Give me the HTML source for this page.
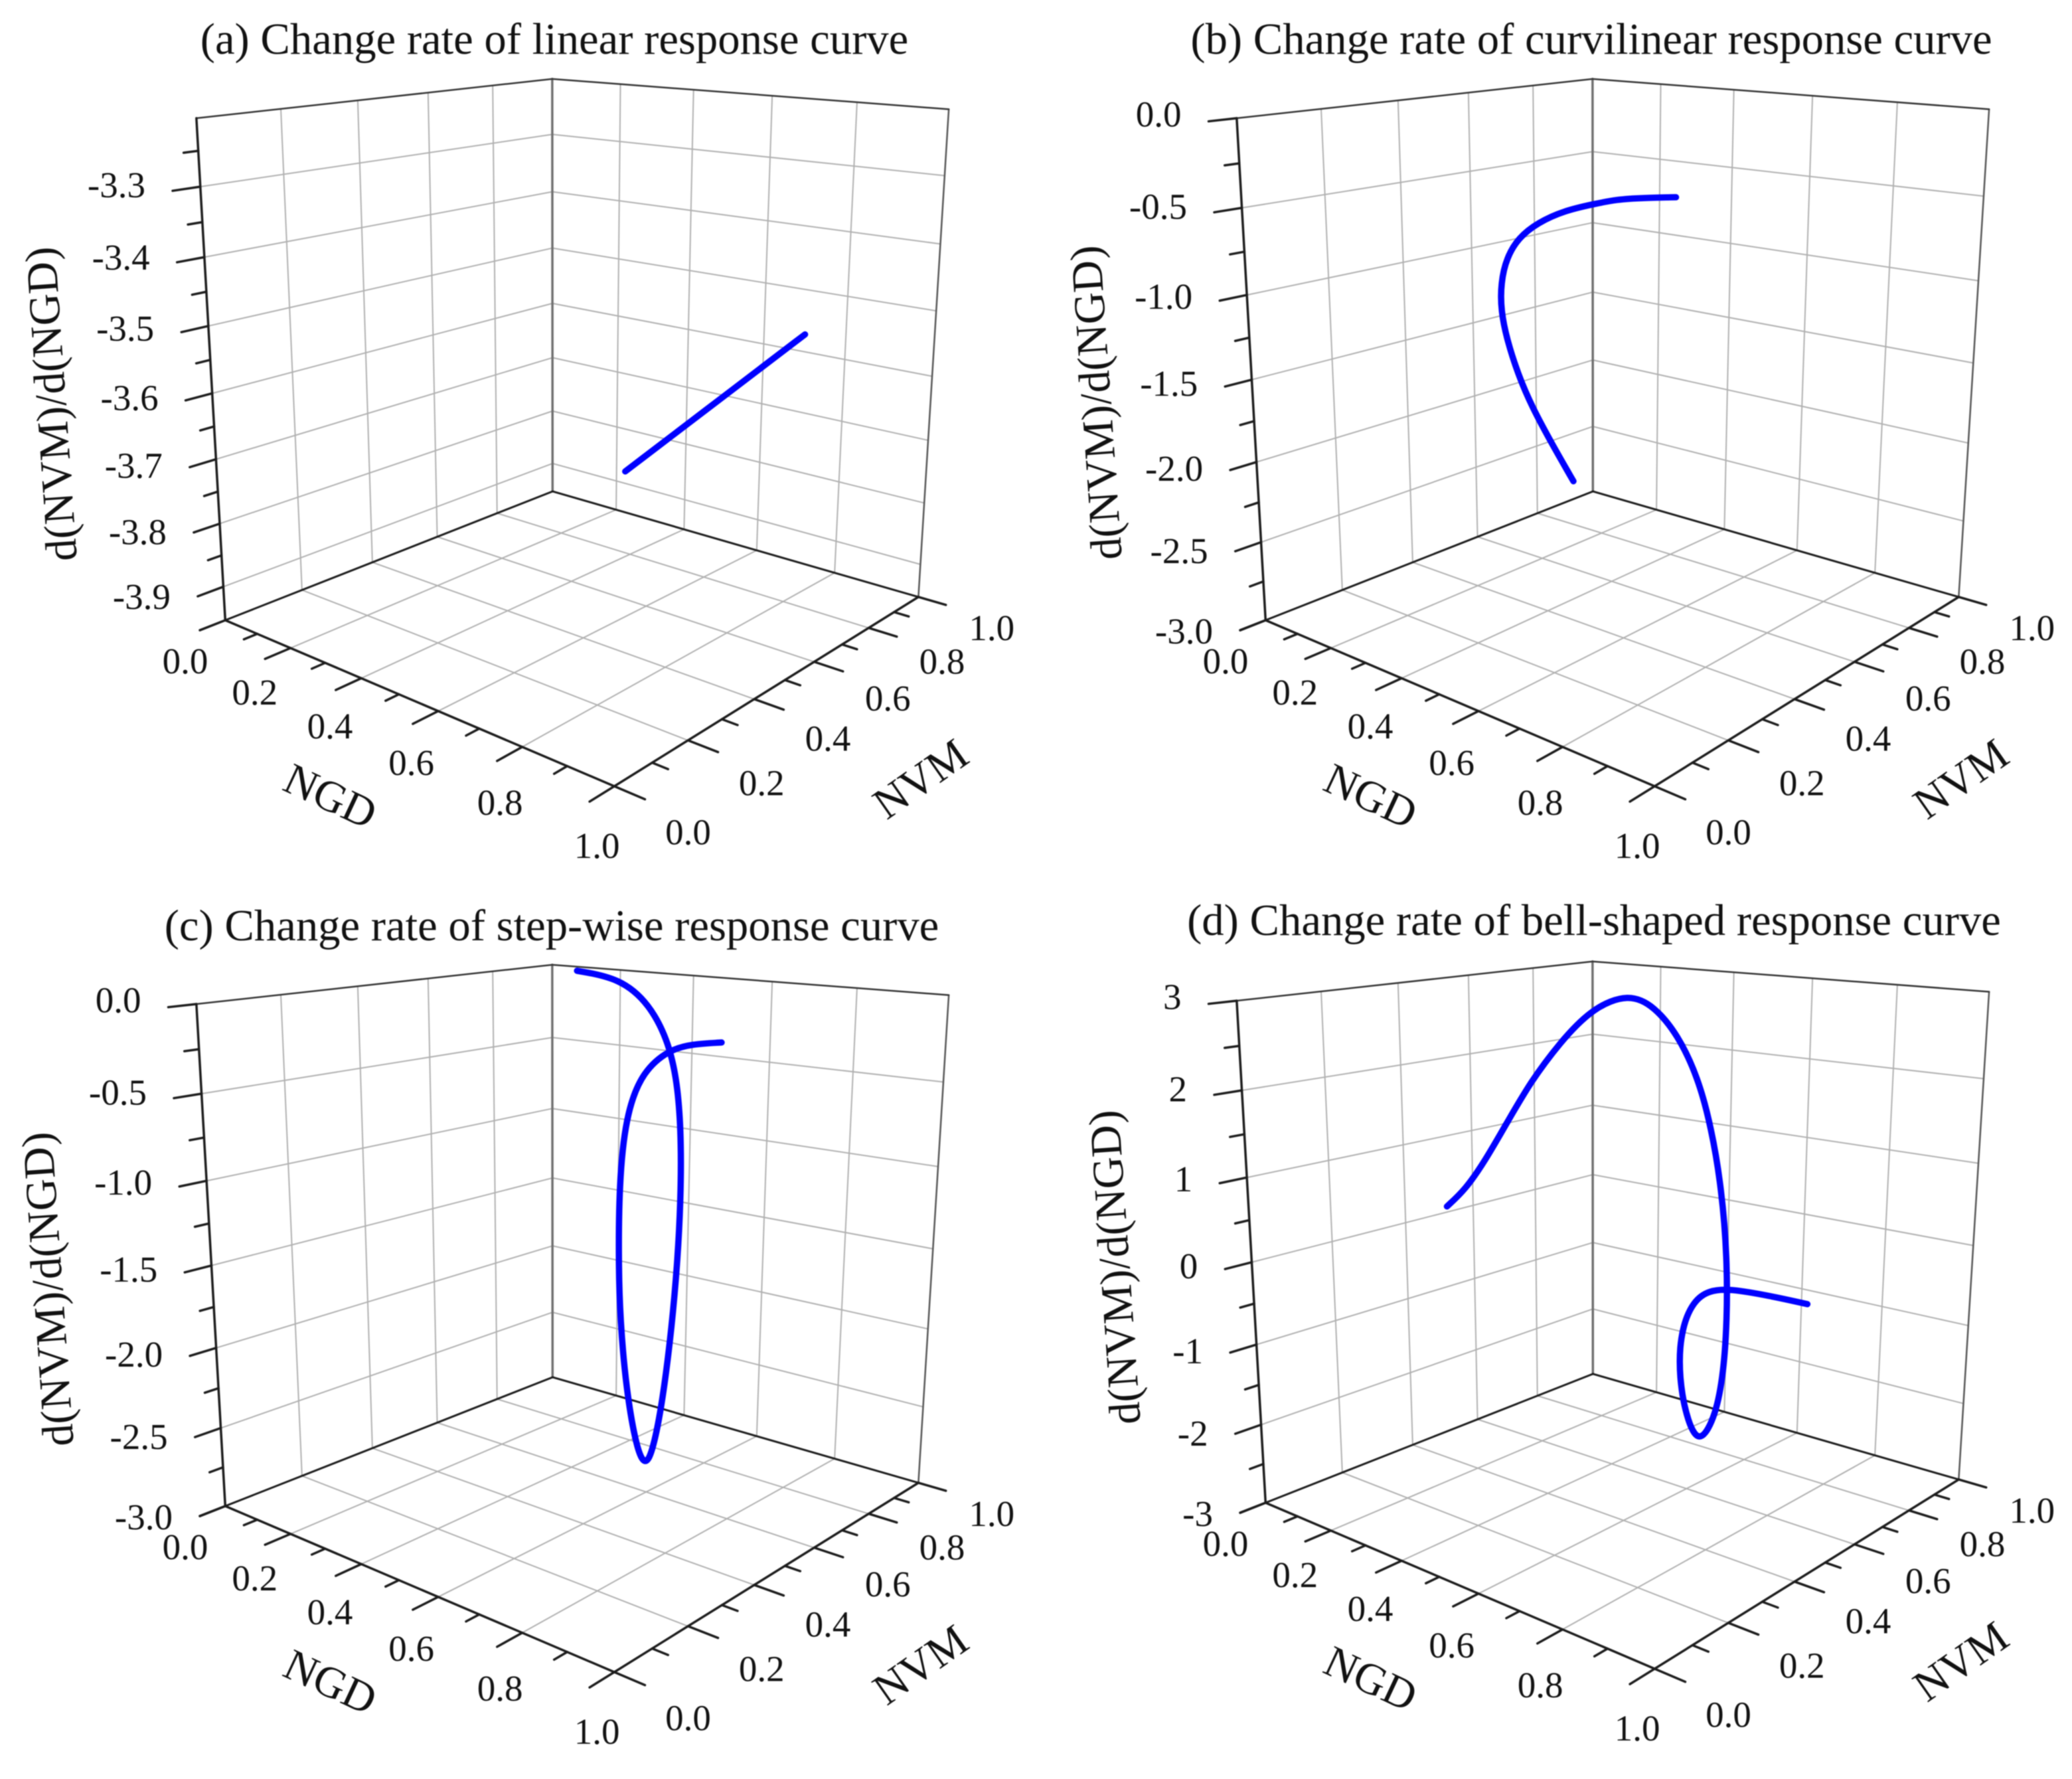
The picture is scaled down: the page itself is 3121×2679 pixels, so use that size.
<!DOCTYPE html>
<html lang="en">
<head>
<meta charset="utf-8">
<title>Change rate of response curves</title>
<style>
html,body{margin:0;padding:0;background:#fff;width:3121px;height:2679px;overflow:hidden}
svg{display:block;filter:blur(0.7px)}
text{font-family:"Liberation Serif","Times New Roman",serif;fill:#111}
</style>
</head>
<body>
<svg id="chart" xmlns="http://www.w3.org/2000/svg" width="3121" height="2679" viewBox="0 0 3121 2679">
<rect x="0" y="0" width="3121" height="2679" fill="#ffffff"/>
</svg>
<script>
// ---- chart data ----
const axisTicksMajor = [0, 0.2, 0.4, 0.6, 0.8, 1.0];
const axisTicksMinor = [0.1, 0.3, 0.5, 0.7, 0.9];
const axisTickLabels = ['0.0', '0.2', '0.4', '0.6', '0.8', '1.0'];

const titleA = '(a) Change rate of linear response curve';
const rateRangeA = [-3.954, -3.205];
const rateMajorA = [-3.3, -3.4, -3.5, -3.6, -3.7, -3.8, -3.9];
const rateMinorA = [-3.25, -3.35, -3.45, -3.55, -3.65, -3.75, -3.85];
const rateLabelsA = ['-3.3', '-3.4', '-3.5', '-3.6', '-3.7', '-3.8', '-3.9'];
const ngdA = [0.71, 0.84, 0.97];
const nvmA = [0.987, 0.522, 0.057];
const rateA = [-3.569, -3.569, -3.569];

const titleB = '(b) Change rate of curvilinear response curve';
const rateRangeB = [-3, 0];
const rateMajorB = [0, -0.5, -1, -1.5, -2, -2.5, -3];
const rateMinorB = [-0.25, -0.75, -1.25, -1.75, -2.25, -2.75];
const rateLabelsB = ['0.0', '-0.5', '-1.0', '-1.5', '-2.0', '-2.5', '-3.0'];
const ngdB = [0.247, 0.257, 0.267, 0.287, 0.317, 0.357, 0.397, 0.437, 0.477, 0.517, 0.557, 0.607, 0.657, 0.727, 0.807];
const nvmB = [0.9997, 0.871, 0.7704, 0.6727, 0.5481, 0.4278, 0.3306, 0.2569, 0.1995, 0.1578, 0.1308, 0.1042, 0.0866, 0.0595, 0.0225];
const rateB = [-0.742, -0.694, -0.663, -0.648, -0.63, -0.638, -0.671, -0.734, -0.83, -0.945, -1.064, -1.204, -1.346, -1.478, -1.589];

const titleC = '(c) Change rate of step-wise response curve';
const rateRangeC = [-3, 0];
const rateMajorC = [0, -0.5, -1, -1.5, -2, -2.5, -3];
const rateMinorC = [-0.25, -0.75, -1.25, -1.75, -2.25, -2.75];
const rateLabelsC = ['0.0', '-0.5', '-1.0', '-1.5', '-2.0', '-2.5', '-3.0'];
const ngdC = [0.087, 0.207, 0.287, 0.367, 0.427, 0.467, 0.487, 0.497, 0.507, 0.507, 0.507, 0.557, 0.507, 0.507, 0.507, 0.507, 0.507, 0.507, 0.507, 0.527, 0.547, 0.567];
const nvmC = [0.985, 0.9888, 0.9935, 0.962, 0.9167, 0.8773, 0.8514, 0.832, 0.8022, 0.7745, 0.744, 0.6524, 0.6862, 0.6482, 0.626, 0.6179, 0.6191, 0.6408, 0.6903, 0.7484, 0.7978, 0.872];
const rateC = [-0.022, -0.05, -0.201, -0.43, -0.687, -1.02, -1.365, -1.72, -2.146, -2.624, -2.93, -2.92, -2.875, -2.44, -1.978, -1.577, -1.054, -0.688, -0.472, -0.358, -0.335, -0.344];

const titleD = '(d) Change rate of bell-shaped response curve';
const rateRangeD = [-3, 3];
const rateMajorD = [3, 2, 1, 0, -1, -2, -3];
const rateMinorD = [2.5, 1.5, 0.5, -0.5, -1.5, -2.5];
const rateLabelsD = ['3', '2', '1', '0', '-1', '-2', '-3'];
const ngdD = [0.505, 0.505, 0.505, 0.505, 0.505, 0.505, 0.505, 0.455, 0.505, 0.505, 0.525, 0.545, 0.565, 0.585, 0.605, 0.605, 0.605, 0.605, 0.605, 0.605, 0.605, 0.605, 0.605, 0.605, 0.645, 0.685];
const nvmD = [0.0374, 0.0822, 0.1312, 0.1898, 0.2493, 0.3277, 0.4172, 0.583, 0.5995, 0.6732, 0.7143, 0.7358, 0.748, 0.7438, 0.7209, 0.7126, 0.6897, 0.6372, 0.5942, 0.5626, 0.5655, 0.6059, 0.6591, 0.7266, 0.8103, 0.8932];
const rateD = [1.096, 1.226, 1.477, 1.846, 2.22, 2.59, 2.916, 2.97, 2.834, 2.462, 1.943, 1.322, 0.558, -0.272, -1.016, -1.667, -2.188, -2.488, -2.129, -1.493, -0.927, -0.598, -0.545, -0.618, -0.775, -0.955];

// ---- layout of the four panels ----
const panels = [
  {id:'a', ox:339.3, oy:934, title:titleA, tx:835, ty:81, yx:-240, yy:-327, range:rateRangeA, major:rateMajorA, minor:rateMinorA, labels:rateLabelsA, ngd:ngdA, nvm:nvmA, rate:rateA},
  {id:'b', ox:1906.3, oy:934, title:titleB, tx:2397, ty:81, yx:-233, yy:-329, range:rateRangeB, major:rateMajorB, minor:rateMinorB, labels:rateLabelsB, ngd:ngdB, nvm:nvmB, rate:rateB},
  {id:'c', ox:339.3, oy:2268, title:titleC, tx:831, ty:1416, yx:-245, yy:-328, range:rateRangeC, major:rateMajorC, minor:rateMinorC, labels:rateLabelsC, ngd:ngdC, nvm:nvmC, rate:rateC},
  {id:'d', ox:1906.3, oy:2263, title:titleD, tx:2401, ty:1408, yx:-205, yy:-356, range:rateRangeD, major:rateMajorD, minor:rateMinorD, labels:rateLabelsD, ngd:ngdD, nvm:nvmD, rate:rateD}
];

// ---- perspective camera: unit cube (ngd, nvm, height) to panel pixels ----
function project(n, v, z) {
  const w = 1 - 0.1939 * n + 0.2247 * v - 0.08 * z;
  return [(472.4 * n + 603.8 * v - 40 * z) / w, (201.5 * n - 237.6 * v - 695.5 * z) / w];
}

const svg = document.getElementById('chart');
const NS = 'http://www.w3.org/2000/svg';

function line(parent, name, a, b, color, width) {
  const el = document.createElementNS(NS, 'line');
  
  
  el.setAttribute('x1', a[0].toFixed(2));
  el.setAttribute('y1', a[1].toFixed(2));
  el.setAttribute('x2', b[0].toFixed(2));
  el.setAttribute('y2', b[1].toFixed(2));
  el.setAttribute('stroke', color);
  el.setAttribute('stroke-width', width);
  el.setAttribute('stroke-linecap', 'round');
  parent.appendChild(el);
  return el;
}

function label(parent, name, str, x, y, size, anchor, rot) {
  const el = document.createElementNS(NS, 'text');
  
  
  el.setAttribute('x', x.toFixed(1));
  el.setAttribute('y', y.toFixed(1));
  el.setAttribute('font-size', size);
  el.setAttribute('text-anchor', anchor);
  if (rot) el.setAttribute('transform', 'rotate(' + rot + ' ' + x.toFixed(1) + ' ' + y.toFixed(1) + ')');
  el.textContent = str;
  parent.appendChild(el);
  return el;
}

function drawPanel(P) {
  const g = document.createElementNS(NS, 'g');
  
  
  svg.appendChild(g);

  const pt = (n, v, z) => {
    const s = project(n, v, z);
    return [P.ox + s[0], P.oy + s[1]];
  };
  const zf = r => (r - P.range[0]) / (P.range[1] - P.range[0]);
  const GRID = '#b0b0b0', GW = 2, AX = '#1c1c1c';

  // floor and wall grid
  [0.2, 0.4, 0.6, 0.8].forEach(t => {
    line(g, 'floor-grid-ngd', pt(t, 0, 0), pt(t, 1, 0), GRID, GW);
    line(g, 'floor-grid-nvm', pt(0, t, 0), pt(1, t, 0), GRID, GW);
    line(g, 'left-wall-grid-vertical', pt(0, t, 0), pt(0, t, 1), GRID, GW);
    line(g, 'right-wall-grid-vertical', pt(t, 1, 0), pt(t, 1, 1), GRID, GW);
  });
  P.major.forEach(r => {
    const z = zf(r);
    if (z < 0.001 || z > 0.999) return;
    line(g, 'left-wall-grid-horizontal', pt(0, 0, z), pt(0, 1, z), GRID, GW);
    line(g, 'right-wall-grid-horizontal', pt(0, 1, z), pt(1, 1, z), GRID, GW);
  });

  // box edges
  line(g, 'back-vertical-edge', pt(0, 1, 0), pt(0, 1, 1), '#707070', 3.5);
  line(g, 'right-vertical-edge', pt(1, 1, 0), pt(1, 1, 1), '#555', 2.5);
  line(g, 'top-left-edge', pt(0, 0, 1), pt(0, 1, 1), '#333', 2.5);
  line(g, 'top-right-edge', pt(0, 1, 1), pt(1, 1, 1), '#333', 2.5);
  line(g, 'floor-back-left-edge', pt(0, 0, 0), pt(0, 1, 0), AX, 3);
  line(g, 'floor-back-right-edge', pt(0, 1, 0), pt(1, 1, 0), AX, 3);
  line(g, 'rate-axis-line', pt(0, 0, 0), pt(0, 0, 1), AX, 3.5);
  line(g, 'ngd-axis-line', pt(0, 0, 0), pt(1, 0, 0), AX, 3.5);
  line(g, 'nvm-axis-line', pt(1, 0, 0), pt(1, 1, 0), AX, 3.5);

  // NGD axis
  axisTicksMajor.forEach((t, i) => {
    const end = pt(t, -0.0625, 0);
    line(g, 'ngd-major-tick', pt(t, 0, 0), end, AX, 3.5);
    label(g, 'ngd-tick-label', axisTickLabels[i], end[0] - 22 + 33 * t, end[1] + 47 + 20 * t + 18, 55, 'middle');
  });
  axisTicksMinor.forEach(t => line(g, 'ngd-minor-tick', pt(t, 0, 0), pt(t, -0.033, 0), AX, 3.5));

  // NVM axis
  axisTicksMajor.forEach((t, i) => {
    const end = pt(1.0625, t, 0);
    line(g, 'nvm-major-tick', pt(1, t, 0), end, AX, 3.5);
    label(g, 'nvm-tick-label', axisTickLabels[i], end[0] + 65 + 4 * t, end[1] + 50 - 15 * t + 18, 55, 'middle');
  });
  axisTicksMinor.forEach(t => line(g, 'nvm-minor-tick', pt(1, t, 0), pt(1.033, t, 0), AX, 3.5));

  // rate axis
  P.major.forEach((r, i) => {
    const z = zf(r);
    const end = pt(0, -0.0625, z);
    line(g, 'rate-major-tick', pt(0, 0, z), end, AX, 3.5);
    label(g, 'rate-tick-label', P.labels[i], end[0] - 41, end[1] + 2 - 12 * z + 18, 55, 'end');
  });
  P.minor.forEach(r => {
    const z = zf(r);
    line(g, 'rate-minor-tick', pt(0, 0, z), pt(0, -0.033, z), AX, 3.5);
  });

  // titles
  label(g, 'panel-title', P.title, P.tx, P.ty, 66.7, 'middle');
  label(g, 'rate-axis-title', 'd(NVM)/d(NGD)', P.ox + P.yx, P.oy + P.yy, 66.7, 'middle', -94);
  label(g, 'ngd-axis-title', 'NGD', P.ox + 149, P.oy + 285, 66.7, 'middle', 25);
  label(g, 'nvm-axis-title', 'NVM', P.ox + 1060, P.oy + 257, 66.7, 'middle', -35);

  // response curve: clamped cubic B-spline through the projected readings
  const pts = P.ngd.map((n, i) => pt(n, P.nvm[i], zf(P.rate[i])));
  const first = pts[0], last = pts[pts.length - 1];
  const c = [first, first].concat(pts, [last, last]);
  let d = 'M' + first[0].toFixed(1) + ' ' + first[1].toFixed(1);
  for (let i = 1; i < c.length - 2; i++) {
    const a = c[i], b = c[i + 1], e = c[i + 2];
    d += ' C' + ((2 * a[0] + b[0]) / 3).toFixed(1) + ' ' + ((2 * a[1] + b[1]) / 3).toFixed(1) +
         ' ' + ((a[0] + 2 * b[0]) / 3).toFixed(1) + ' ' + ((a[1] + 2 * b[1]) / 3).toFixed(1) +
         ' ' + ((a[0] + 4 * b[0] + e[0]) / 6).toFixed(1) + ' ' + ((a[1] + 4 * b[1] + e[1]) / 6).toFixed(1);
  }
  const curve = document.createElementNS(NS, 'path');
  
  
  curve.setAttribute('d', d);
  curve.setAttribute('fill', 'none');
  curve.setAttribute('stroke', '#0000ff');
  curve.setAttribute('stroke-width', '9.5');
  curve.setAttribute('stroke-linecap', 'round');
  curve.setAttribute('stroke-linejoin', 'round');
  g.appendChild(curve);
}

panels.forEach(drawPanel);
</script>
</body>
</html>
